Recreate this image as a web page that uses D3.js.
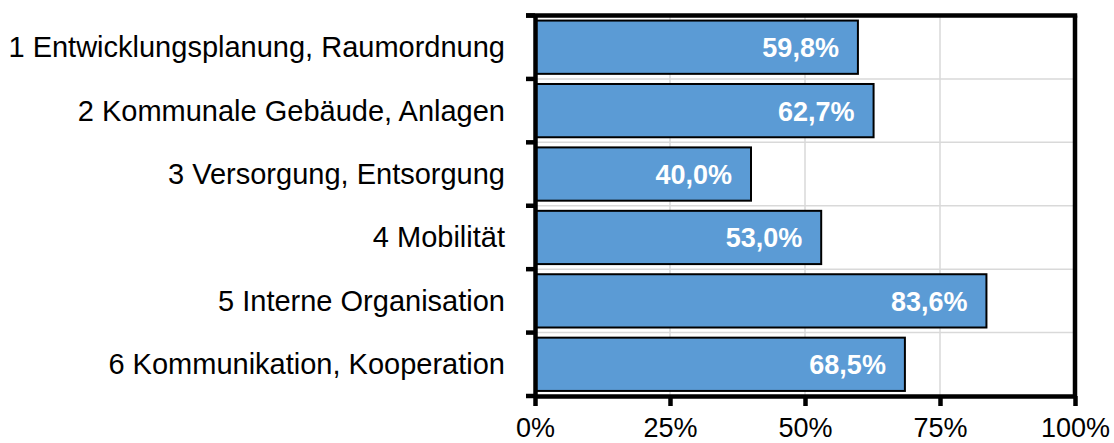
<!DOCTYPE html>
<html><head><meta charset="utf-8">
<script src="https://cdn.jsdelivr.net/npm/d3@7"></script>
<style>body{margin:0;background:#fff}svg{display:block}text{font-family:"Liberation Sans",Arial,sans-serif}</style>
</head><body>
<svg id="c" width="1114" height="443"></svg>
<script>
const categories = ["1 Entwicklungsplanung, Raumordnung","2 Kommunale Gebäude, Anlagen","3 Versorgung, Entsorgung","4 Mobilität","5 Interne Organisation","6 Kommunikation, Kooperation"];
const values = [59.8, 62.7, 40.0, 53.0, 83.6, 68.5];
const valueLabels = ["59,8%","62,7%","40,0%","53,0%","83,6%","68,5%"];
const xTicks = [0, 25, 50, 75, 100];
const xTickLabels = ["0%","25%","50%","75%","100%"];

const svg = d3.select("#c");
const L = 535, R = 1075, T = 15.5, B = 396;
const x = d3.scaleLinear().domain([0,100]).range([L,R]);
const y = d3.scaleBand().domain(categories).range([T,B]).paddingInner(0.16).paddingOuter(0.08);
const yb = d3.scaleBand().domain(categories).range([T,B]);

// gridlines
svg.append("g").selectAll("line.v").data(xTicks.slice(1,-1)).join("line")
  .attr("x1",d=>x(d)).attr("x2",d=>x(d)).attr("y1",T).attr("y2",B)
  .attr("stroke","#d9d9d9").attr("stroke-width",1.5);
svg.append("g").selectAll("line.h").data(categories.slice(1)).join("line")
  .attr("x1",L).attr("x2",R).attr("y1",d=>yb(d)).attr("y2",d=>yb(d))
  .attr("stroke","#d9d9d9").attr("stroke-width",1.5);

// bars
svg.append("g").selectAll("rect").data(values).join("rect")
  .attr("x",L).attr("y",(d,i)=>y(categories[i]))
  .attr("width",d=>x(d)-L).attr("height",y.bandwidth())
  .attr("fill","#5b9bd5").attr("stroke","#000").attr("stroke-width",2);

// value labels
svg.append("g").selectAll("text").data(values).join("text")
  .attr("x",d=>x(d)-19).attr("y",(d,i)=>y(categories[i])+y.bandwidth()/2+10)
  .attr("text-anchor","end").attr("fill","#fff").attr("font-weight","bold")
  .attr("font-size",27).text((d,i)=>valueLabels[i]);

// axes
const yAxis = d3.axisLeft(yb).tickValues([]).tickSizeOuter(0);
const gy = svg.append("g").attr("transform",`translate(${L},0)`).call(yAxis);
gy.select(".domain").attr("stroke","#000").attr("stroke-width",4.5);
// category boundary ticks
const bounds = categories.map(c=>yb(c)).concat([B]);
svg.append("g").selectAll("line").data(bounds).join("line")
  .attr("x1",L-9).attr("x2",L).attr("y1",d=>d).attr("y2",d=>d)
  .attr("stroke","#000").attr("stroke-width",4.5);
// category labels
svg.append("g").selectAll("text").data(categories).join("text")
  .attr("x",L-30).attr("y",d=>yb(d)+yb.bandwidth()/2+10)
  .attr("text-anchor","end").attr("font-size",29).attr("fill","#000").text(d=>d);

const xAxis = d3.axisBottom(x).tickValues(xTicks).tickFormat((d,i)=>xTickLabels[i]).tickSize(10).tickSizeOuter(0).tickPadding(12);
const gx = svg.append("g").attr("transform",`translate(0,${B})`).call(xAxis);
gx.select(".domain").attr("stroke","#000").attr("stroke-width",4.5);
gx.selectAll(".tick line").attr("stroke","#000").attr("stroke-width",4.5);
gx.selectAll(".tick text").attr("font-size",27).attr("fill","#000").attr("font-family","Liberation Sans, Arial, sans-serif");

// top & right border
svg.append("line").attr("x1",L-9).attr("x2",R+2.25).attr("y1",T).attr("y2",T).attr("stroke","#000").attr("stroke-width",4.5);
svg.append("line").attr("x1",R).attr("x2",R).attr("y1",T).attr("y2",B).attr("stroke","#000").attr("stroke-width",4.5);
</script>
</body></html>
